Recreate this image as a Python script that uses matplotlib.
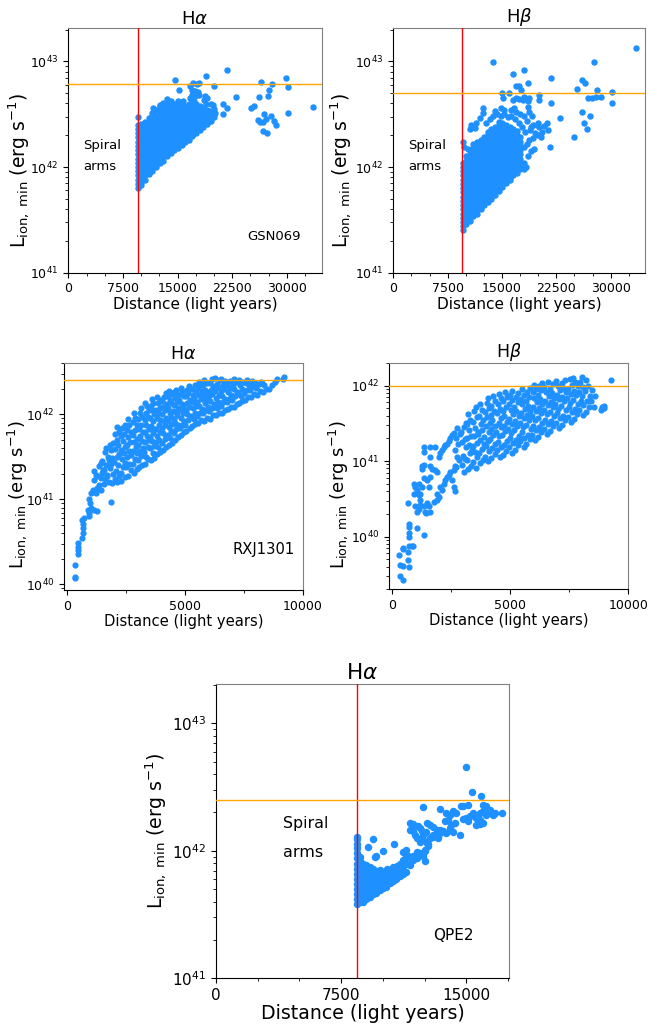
import numpy as np
import matplotlib.pyplot as plt
from matplotlib.ticker import MultipleLocator

# ================= data =================
# dense wedges: distance (light years) -> list of log10 L_ion,min (erg/s)
# clouds / scattered points: (distance, log10 L) pairs

# ---- GSN069, H alpha ----
gsn_ha_core = {
    9550: [41.80, 41.84, 41.88, 41.92, 41.96, 42.00, 42.04, 42.08, 42.12, 42.16, 42.20, 42.24, 42.28, 42.32, 42.36, 42.40],
    10050: [41.83, 41.86, 41.90, 41.94, 41.98, 42.02, 42.06, 42.10, 42.14, 42.18, 42.22, 42.26, 42.30, 42.34, 42.38, 42.41],
    10550: [41.88, 41.92, 41.96, 42.00, 42.04, 42.08, 42.12, 42.16, 42.20, 42.24, 42.28, 42.32, 42.36, 42.40, 42.43],
    11050: [41.93, 41.98, 42.02, 42.06, 42.10, 42.14, 42.18, 42.22, 42.26, 42.30, 42.34, 42.38, 42.42, 42.46],
    11550: [41.96, 42.00, 42.04, 42.08, 42.12, 42.16, 42.20, 42.24, 42.28, 42.32, 42.36, 42.40, 42.44, 42.48, 42.51],
    12050: [42.00, 42.02, 42.06, 42.10, 42.14, 42.18, 42.22, 42.26, 42.30, 42.34, 42.38, 42.42, 42.46, 42.50, 42.54],
    12550: [42.04, 42.08, 42.12, 42.16, 42.20, 42.24, 42.28, 42.32, 42.36, 42.40, 42.44, 42.48, 42.52, 42.56, 42.59],
    13050: [42.06, 42.10, 42.14, 42.18, 42.22, 42.26, 42.30, 42.34, 42.38, 42.42, 42.46, 42.50, 42.54, 42.58, 42.61],
    13550: [42.10, 42.12, 42.16, 42.20, 42.24, 42.28, 42.32, 42.36, 42.40, 42.44, 42.48, 42.52, 42.56, 42.60],
    14050: [42.13, 42.18, 42.22, 42.26, 42.30, 42.34, 42.38, 42.42, 42.46, 42.50, 42.54, 42.58, 42.62],
    14550: [42.16, 42.20, 42.24, 42.28, 42.32, 42.36, 42.40, 42.44, 42.48, 42.52, 42.56, 42.60],
    15050: [42.18, 42.22, 42.26, 42.30, 42.34, 42.38, 42.42, 42.46, 42.50, 42.54, 42.58, 42.62],
    15550: [42.21, 42.24, 42.28, 42.32, 42.36, 42.40, 42.44, 42.48, 42.52, 42.56, 42.60],
    16050: [42.24, 42.26, 42.30, 42.34, 42.38, 42.42, 42.46, 42.50, 42.54, 42.58],
    16550: [42.26, 42.28, 42.32, 42.36, 42.40, 42.44, 42.48, 42.52, 42.56, 42.60],
    17050: [42.29, 42.30, 42.34, 42.38, 42.42, 42.46, 42.50, 42.54, 42.58, 42.62],
    17550: [42.32, 42.36, 42.40, 42.44, 42.48, 42.52, 42.56, 42.60],
    18050: [42.35, 42.38, 42.42, 42.46, 42.50, 42.54, 42.58],
    18550: [42.38, 42.40, 42.44, 42.48, 42.52, 42.56],
    19050: [42.41, 42.42, 42.46, 42.50, 42.54],
    19550: [42.44, 42.48, 42.52],
    20000: [42.47, 42.50],
}
gsn_ha_scatter = [
    (9550, 42.47), (11680, 42.556), (12600, 42.578), (13520, 42.642), (15800, 42.629),
    (14657, 42.819), (15250, 42.730), (16700, 42.769), (17170, 42.794), (17640, 42.788),
    (17950, 42.794), (16940, 42.73), (17400, 42.72), (17860, 42.71), (16950, 42.68),
    (17400, 42.67), (17900, 42.68), (16700, 42.65), (17200, 42.62), (18780, 42.67),
    (19010, 42.65), (18650, 42.63), (18850, 42.60), (18870, 42.857), (21750, 42.92),
    (20015, 42.77), (23080, 42.661), (21300, 42.596), (21750, 42.556), (21300, 42.505),
    (20150, 42.514), (19920, 42.587), (19600, 42.594), (20000, 42.55), (19400, 42.53),
    (19800, 42.47), (19500, 42.45), (19150, 42.50), (25100, 42.562), (25460, 42.578),
    (26200, 42.667), (26470, 42.807), (27610, 42.73), (27940, 42.785), (27480, 42.673),
    (29900, 42.842), (30220, 42.759), (30180, 42.514), (33570, 42.569), (26930, 42.505),
    (26010, 42.445), (26330, 42.43), (26790, 42.425), (27110, 42.452), (27800, 42.483),
    (28210, 42.434), (28580, 42.394), (26790, 42.34), (27290, 42.318),
]

# ---- GSN069, H beta ----
gsn_hb_core = {
    9550: [41.40, 41.44, 41.48, 41.52, 41.56, 41.60, 41.64, 41.68, 41.72, 41.76, 41.80, 41.84, 41.88, 41.92, 41.96, 42.00, 42.04],
    10050: [41.46, 41.50, 41.54, 41.58, 41.62, 41.66, 41.70, 41.74, 41.78, 41.82, 41.86, 41.90, 41.94, 41.98, 42.02, 42.06, 42.10],
    10550: [41.49, 41.52, 41.56, 41.60, 41.64, 41.68, 41.72, 41.76, 41.80, 41.84, 41.88, 41.92, 41.96, 42.00, 42.04, 42.08, 42.12, 42.16],
    11050: [41.54, 41.58, 41.62, 41.66, 41.70, 41.74, 41.78, 41.82, 41.86, 41.90, 41.94, 41.98, 42.02, 42.06, 42.10, 42.14, 42.18, 42.22],
    11550: [41.56, 41.60, 41.64, 41.68, 41.72, 41.76, 41.80, 41.84, 41.88, 41.92, 41.96, 42.00, 42.04, 42.08, 42.12, 42.16, 42.20, 42.24],
    12050: [41.60, 41.62, 41.66, 41.70, 41.74, 41.78, 41.82, 41.86, 41.90, 41.94, 41.98, 42.02, 42.06, 42.10, 42.14, 42.18, 42.22, 42.26],
    12550: [41.64, 41.68, 41.72, 41.76, 41.80, 41.84, 41.88, 41.92, 41.96, 42.00, 42.04, 42.08, 42.12, 42.16, 42.20, 42.24, 42.28],
    13050: [41.67, 41.70, 41.74, 41.78, 41.82, 41.86, 41.90, 41.94, 41.98, 42.02, 42.06, 42.10, 42.14, 42.18, 42.22, 42.26, 42.30, 42.33],
    13550: [41.70, 41.72, 41.76, 41.80, 41.84, 41.88, 41.92, 41.96, 42.00, 42.04, 42.08, 42.12, 42.16, 42.20, 42.24, 42.28, 42.32, 42.36],
    14050: [41.74, 41.78, 41.82, 41.86, 41.90, 41.94, 41.98, 42.02, 42.06, 42.10, 42.14, 42.18, 42.22, 42.26, 42.30, 42.34, 42.38],
    14550: [41.77, 41.80, 41.84, 41.88, 41.92, 41.96, 42.00, 42.04, 42.08, 42.12, 42.16, 42.20, 42.24, 42.28, 42.32, 42.36, 42.40, 42.43],
    15050: [41.81, 41.84, 41.86, 41.90, 41.94, 41.98, 42.02, 42.06, 42.10, 42.14, 42.18, 42.22, 42.26, 42.30, 42.34, 42.38, 42.42],
    15550: [41.85, 41.88, 41.92, 41.96, 42.00, 42.04, 42.08, 42.12, 42.16, 42.20, 42.24, 42.28, 42.32, 42.36, 42.40],
    16050: [41.88, 41.90, 41.94, 41.98, 42.02, 42.06, 42.10, 42.14, 42.18, 42.22, 42.26, 42.30, 42.34, 42.38],
    16550: [41.92, 41.96, 42.00, 42.04, 42.08, 42.12, 42.16, 42.20, 42.24, 42.28, 42.32, 42.36],
    17050: [41.94, 41.98, 42.02, 42.06, 42.10, 42.14, 42.18, 42.22, 42.26, 42.30, 42.34],
    17550: [41.98, 42.00, 42.04, 42.08, 42.12, 42.16, 42.20, 42.24, 42.28],
    18050: [42.00, 42.04],
}
gsn_hb_scatter = [
    (13741, 42.994), (16480, 42.880), (18090, 42.921), (21750, 42.842), (18640, 42.794),
    (16946, 42.762), (17400, 42.768), (17630, 42.724), (14978, 42.699), (15120, 42.651),
    (15910, 42.699), (16480, 42.63), (16950, 42.655), (17400, 42.64), (18100, 42.66),
    (18780, 42.655), (18550, 42.62), (20150, 42.683), (20060, 42.635), (21750, 42.604),
    (25420, 42.737), (26100, 42.826), (26430, 42.794), (26880, 42.65), (27470, 42.65),
    (27940, 42.66), (28620, 42.66), (28160, 42.730), (30220, 42.714), (30220, 42.61),
    (26010, 42.524), (27110, 42.483), (26380, 42.413), (26790, 42.359), (25000, 42.28),
    (23030, 42.467), (33570, 43.127), (27700, 42.994), (21660, 42.19), (21210, 42.419),
    (21300, 42.35), (12367, 42.556), (12367, 42.514), (11910, 42.461), (10770, 42.40),
    (10540, 42.36), (11450, 42.42), (11220, 42.37), (13970, 42.533), (14890, 42.556),
    (15340, 42.54), (16250, 42.54), (16710, 42.556), (17860, 42.635), (18230, 42.651),
    (18550, 42.571), (18780, 42.524), (19140, 42.483), (19780, 42.397), (20150, 42.375),
    (20840, 42.388), (19920, 42.30), (20380, 42.286), (19010, 42.381), (19230, 42.27),
    (19600, 42.318), (18320, 42.00), (18090, 41.985), (19460, 42.175), (18780, 42.254),
    (18090, 42.19), (9600, 42.24), (9800, 42.19), (10300, 42.17), (12800, 42.42),
    (13300, 42.45), (13800, 42.48), (14300, 42.50), (14800, 42.48), (15300, 42.50),
    (15800, 42.47), (16300, 42.48), (16800, 42.45), (17300, 42.42), (17800, 42.38),
    (18200, 42.33), (18500, 42.44), (18000, 42.48), (17500, 42.50), (17000, 42.52),
    (18400, 42.22), (18800, 42.35), (19300, 42.40), (18600, 42.10), (19000, 42.15),
    (20000, 42.42), (20500, 42.33),
]

# ---- RXJ1301, H alpha ----
rxj_ha_scatter = [
    (309, 40.07), (309, 40.09), (315, 40.23), (452, 40.36), (452, 40.40), (452, 40.44),
    (455, 40.49), (635, 40.54), (650, 40.60), (650, 40.66), (660, 40.71), (640, 40.76),
    (700, 40.78), (880, 40.88), (918, 40.84), (900, 40.80), (1000, 40.90), (1140, 40.87),
    (1270, 40.86), (950, 40.96), (930, 41.01), (990, 41.07), (1080, 41.11), (1210, 41.07),
    (1270, 41.13), (1410, 41.11), (1350, 41.17), (1140, 41.23), (1210, 41.29), (1270, 41.27),
    (1140, 41.33), (1410, 41.25), (1480, 41.31), (1560, 41.35), (1700, 41.29), (1840, 40.97),
    (1350, 41.39), (1410, 41.43), (1480, 41.45),
    (1560, 41.18), (1690, 41.27), (1610, 41.24), (1530, 41.35), (1650, 41.41), (1720, 41.50), (1580, 41.56), (1640, 41.60),
    (1790, 41.21), (1880, 41.19), (1940, 41.30), (1830, 41.37), (1760, 41.46), (1910, 41.49), (1860, 41.58), (1800, 41.64),
    (1950, 41.66), (1870, 41.42),
    (2010, 41.24), (2130, 41.20), (2200, 41.28), (2070, 41.33), (2150, 41.40), (2000, 41.44), (2110, 41.50), (2190, 41.53),
    (2040, 41.59), (2160, 41.64), (2090, 41.70), (2020, 41.77), (2180, 41.79), (2120, 41.85),
    (2300, 41.22), (2430, 41.26), (2260, 41.31), (2370, 41.38), (2460, 41.43), (2320, 41.47), (2400, 41.54), (2280, 41.58),
    (2440, 41.62), (2350, 41.69), (2270, 41.74), (2410, 41.77), (2330, 41.84), (2460, 41.88),
    (2570, 41.27), (2690, 41.34), (2510, 41.38), (2630, 41.42), (2550, 41.50), (2700, 41.52), (2600, 41.57), (2520, 41.64),
    (2660, 41.67), (2580, 41.73), (2700, 41.79), (2540, 41.82), (2640, 41.87), (2590, 41.94),
    (2820, 41.31), (2940, 41.36), (2770, 41.42), (2880, 41.47), (2960, 41.55), (2800, 41.57), (2900, 41.62), (2840, 41.68),
    (2970, 41.71), (2780, 41.76), (2870, 41.81), (2950, 41.87), (2810, 41.91), (2890, 41.96), (2830, 42.01),
    (3060, 41.38), (3190, 41.40), (3000, 41.46), (3130, 41.51), (3070, 41.57), (3210, 41.60), (3020, 41.64), (3160, 41.69),
    (3090, 41.74), (3200, 41.79), (3040, 41.83), (3140, 41.88), (3010, 41.94), (3180, 41.97), (3080, 42.02), (3150, 42.08),
    (3290, 41.42), (3440, 41.47), (3360, 41.50), (3270, 41.56), (3410, 41.61), (3320, 41.67), (3460, 41.70), (3380, 41.74),
    (3300, 41.79), (3450, 41.83), (3350, 41.88), (3280, 41.93), (3420, 41.97), (3330, 42.02), (3470, 42.05), (3390, 42.10),
    (3310, 42.13),
    (3560, 41.46), (3700, 41.49), (3620, 41.55), (3520, 41.60), (3670, 41.63), (3590, 41.69), (3510, 41.73), (3650, 41.78),
    (3700, 41.83), (3570, 41.86), (3620, 41.92), (3530, 41.96), (3680, 42.00), (3600, 42.05), (3540, 42.10), (3660, 42.13),
    (3610, 42.18),
    (3790, 41.53), (3930, 41.56), (3860, 41.61), (3760, 41.67), (3900, 41.70), (3820, 41.75), (3950, 41.79), (3780, 41.83),
    (3880, 41.88), (3940, 41.93), (3810, 41.96), (3870, 42.01), (3770, 42.05), (3920, 42.08), (3840, 42.13), (3950, 42.17),
    (3800, 42.20),
    (4060, 41.58), (4190, 41.62), (4010, 41.66), (4130, 41.71), (4210, 41.75), (4080, 41.78), (4020, 41.84), (4160, 41.87),
    (4100, 41.92), (4200, 41.96), (4040, 42.00), (4140, 42.05), (4070, 42.09), (4190, 42.12), (4030, 42.16), (4120, 42.20),
    (4170, 42.25),
    (4300, 41.64), (4440, 41.66), (4370, 41.72), (4260, 41.76), (4410, 41.80), (4320, 41.85), (4460, 41.89), (4280, 41.92),
    (4390, 41.97), (4340, 42.01), (4470, 42.04), (4290, 42.08), (4420, 42.13), (4360, 42.17), (4270, 42.21), (4430, 42.24),
    (4330, 42.27),
    (4560, 41.70), (4690, 41.73), (4520, 41.78), (4630, 41.83), (4710, 41.87), (4580, 41.90), (4510, 41.95), (4660, 41.99),
    (4600, 42.03), (4700, 42.07), (4540, 42.11), (4640, 42.15), (4570, 42.19), (4680, 42.23), (4530, 42.26), (4620, 42.29),
    (4810, 41.76), (4940, 41.79), (4770, 41.84), (4880, 41.88), (4960, 41.92), (4830, 41.96), (4900, 42.01), (4790, 42.05),
    (4920, 42.09), (4850, 42.12), (4760, 42.17), (4950, 42.21), (4820, 42.24), (4890, 42.28), (4840, 42.31),
    (5060, 41.80), (5190, 41.84), (5010, 41.88), (5130, 41.93), (5210, 41.97), (5080, 42.00), (5020, 42.05), (5160, 42.09),
    (5100, 42.13), (5200, 42.17), (5040, 42.21), (5140, 42.25), (5070, 42.29), (5180, 42.33),
    (5300, 41.86), (5440, 41.89), (5370, 41.94), (5260, 41.98), (5410, 42.02), (5320, 42.07), (5460, 42.10), (5280, 42.14),
    (5390, 42.19), (5340, 42.23), (5470, 42.26), (5290, 42.30), (5420, 42.34),
    (5560, 41.90), (5690, 41.93), (5520, 41.98), (5630, 42.02), (5710, 42.06), (5580, 42.10), (5510, 42.15), (5660, 42.18),
    (5600, 42.23), (5700, 42.27), (5540, 42.31), (5640, 42.35), (5590, 42.38),
    (5810, 41.92), (5940, 41.96), (5770, 42.01), (5880, 42.05), (5960, 42.09), (5830, 42.13), (5900, 42.17), (5790, 42.21),
    (5920, 42.26), (5850, 42.29), (5760, 42.34), (5950, 42.37), (5820, 42.40),
    (6060, 41.95), (6190, 41.99), (6010, 42.04), (6130, 42.08), (6210, 42.12), (6080, 42.16), (6020, 42.21), (6160, 42.24),
    (6100, 42.29), (6200, 42.33), (6040, 42.37), (6140, 42.41),
    (6300, 41.99), (6440, 42.02), (6370, 42.07), (6260, 42.11), (6410, 42.15), (6320, 42.19), (6460, 42.23), (6280, 42.27),
    (6390, 42.32), (6340, 42.36), (6470, 42.40), (6290, 42.43),
    (6560, 42.01), (6690, 42.05), (6520, 42.10), (6630, 42.14), (6710, 42.18), (6580, 42.22), (6510, 42.27), (6660, 42.30),
    (6600, 42.35), (6700, 42.39), (6540, 42.42),
    (6810, 42.06), (6940, 42.09), (6770, 42.14), (6880, 42.18), (6960, 42.23), (6830, 42.26), (6900, 42.31), (6790, 42.35),
    (6920, 42.39),
    (7060, 42.09), (7190, 42.12), (7010, 42.17), (7130, 42.21), (7210, 42.26), (7080, 42.30), (7020, 42.34), (7160, 42.38),
    (7100, 42.41),
    (7300, 42.13), (7440, 42.16), (7370, 42.21), (7260, 42.25), (7410, 42.30), (7320, 42.34), (7460, 42.38), (7280, 42.40),
    (7560, 42.17), (7690, 42.20), (7520, 42.25), (7630, 42.29), (7710, 42.34), (7580, 42.37), (7650, 42.40),
    (7810, 42.20), (7940, 42.24), (7770, 42.29), (7880, 42.33), (7960, 42.37), (7830, 42.39),
    (8060, 42.23), (8190, 42.27), (8010, 42.31), (8130, 42.36), (8210, 42.38),
    (8300, 42.26), (8440, 42.30), (8370, 42.35), (8260, 42.37),
    (8560, 42.30), (8690, 42.34), (8820, 42.38), (8900, 42.41), (9180, 42.42), (9210, 42.44),
]

# ---- RXJ1301, H beta ----
rxj_hb_scatter = [
    (300, 39.76), (330, 39.48), (330, 39.62), (440, 39.61), (450, 39.83), (470, 39.85),
    (440, 39.42), (650, 39.80), (684, 39.87), (684, 40.045), (684, 40.13), (720, 40.17),
    (700, 40.00), (850, 39.88), (870, 39.88), (670, 39.69), (700, 39.60), (650, 40.45),
    (1030, 40.11), (1350, 40.02), (897, 40.70), (970, 40.66), (897, 40.57), (1040, 40.62),
    (1110, 40.55), (1180, 40.49), (970, 40.40), (1040, 40.33), (1110, 40.37), (1180, 40.42),
    (1320, 40.40), (1464, 40.45), (1605, 40.32), (1535, 40.40), (1390, 40.33), (1430, 40.31),
    (1750, 40.46), (1890, 40.49), (1960, 40.53), (1180, 40.57), (1110, 40.70), (1250, 40.66),
    (1320, 40.77), (1464, 40.75), (1605, 40.79), (1535, 40.66), (1250, 40.93), (1320, 40.95),
    (1250, 40.90), (1320, 41.19), (1320, 41.12), (1605, 41.19), (1820, 41.19), (1605, 41.06),
    (1605, 40.93), (1680, 40.90), (1820, 40.88), (1890, 40.86), (1960, 41.06), (2030, 41.10),
    (2100, 41.15), (2170, 41.19), (2240, 41.21), (2310, 41.23), (1890, 40.57), (2030, 40.66),
    (2100, 40.62), (2170, 40.70), (2240, 40.75), (2310, 40.79), (2380, 40.81), (2450, 40.86),
    (2600, 40.88), (2670, 40.93), (2530, 40.75), (2600, 40.66), (2670, 40.60), (2450, 41.30),
    (2530, 41.34), (2600, 41.37), (2380, 41.27),
    (2690, 40.92), (2820, 41.01), (2740, 41.06), (2660, 41.15), (2800, 41.22), (2710, 41.31), (2850, 41.36), (2760, 41.44),
    (3040, 40.86), (2930, 40.95), (3090, 41.03), (2980, 41.07), (3110, 41.18), (2950, 41.25), (3060, 41.29), (2900, 41.38),
    (3020, 41.45), (3100, 41.51),
    (3200, 40.90), (3320, 40.93), (3170, 41.02), (3290, 41.10), (3360, 41.14), (3230, 41.21), (3150, 41.30), (3340, 41.33),
    (3250, 41.41), (3180, 41.49), (3300, 41.55), (3220, 41.62),
    (3560, 40.91), (3430, 40.99), (3600, 41.05), (3490, 41.12), (3400, 41.20), (3570, 41.24), (3460, 41.33), (3620, 41.38),
    (3520, 41.44), (3410, 41.52), (3580, 41.58), (3470, 41.66), (3540, 41.71),
    (3700, 40.97), (3830, 41.02), (3660, 41.10), (3780, 41.16), (3870, 41.23), (3720, 41.28), (3640, 41.36), (3810, 41.41),
    (3740, 41.49), (3860, 41.55), (3680, 41.60), (3790, 41.68), (3720, 41.75),
    (4060, 41.00), (3930, 41.06), (4110, 41.13), (3980, 41.20), (4040, 41.27), (3900, 41.32), (4090, 41.39), (3960, 41.46),
    (4120, 41.51), (4010, 41.58), (3920, 41.65), (4080, 41.70), (3990, 41.77), (4050, 41.83),
    (4180, 41.04), (4330, 41.09), (4220, 41.17), (4370, 41.22), (4150, 41.29), (4280, 41.35), (4200, 41.42), (4350, 41.47),
    (4240, 41.55), (4160, 41.61), (4310, 41.66), (4190, 41.73), (4340, 41.80), (4260, 41.86),
    (4560, 41.06), (4430, 41.14), (4610, 41.19), (4470, 41.25), (4540, 41.33), (4410, 41.38), (4590, 41.45), (4500, 41.51),
    (4620, 41.57), (4450, 41.64), (4570, 41.69), (4480, 41.76), (4600, 41.83), (4520, 41.89),
    (4680, 41.08), (4820, 41.13), (4730, 41.21), (4860, 41.27), (4660, 41.34), (4790, 41.40), (4710, 41.47), (4850, 41.52),
    (4750, 41.60), (4670, 41.66), (4810, 41.72), (4700, 41.79), (4840, 41.85), (4760, 41.92),
    (5060, 41.11), (4930, 41.18), (5100, 41.24), (4980, 41.30), (5040, 41.37), (4910, 41.43), (5080, 41.49), (4960, 41.56),
    (5120, 41.62), (5010, 41.68), (4940, 41.75), (5090, 41.81), (4990, 41.87), (5050, 41.93),
    (5190, 41.15), (5320, 41.21), (5230, 41.28), (5360, 41.33), (5160, 41.41), (5290, 41.46), (5210, 41.53), (5350, 41.59),
    (5250, 41.66), (5170, 41.72), (5310, 41.78), (5220, 41.85), (5340, 41.90),
    (5560, 41.19), (5430, 41.26), (5600, 41.31), (5480, 41.38), (5540, 41.45), (5410, 41.50), (5590, 41.57), (5460, 41.63),
    (5620, 41.69), (5510, 41.75), (5440, 41.82), (5580, 41.88), (5490, 41.95),
    (5680, 41.23), (5820, 41.29), (5730, 41.35), (5860, 41.42), (5660, 41.48), (5790, 41.54), (5710, 41.61), (5850, 41.66),
    (5750, 41.73), (5670, 41.80), (5810, 41.85), (5700, 41.92), (5840, 41.97),
    (6060, 41.28), (5930, 41.34), (6100, 41.41), (5980, 41.47), (6040, 41.54), (5910, 41.59), (6080, 41.66), (5960, 41.72),
    (6120, 41.78), (6010, 41.84), (5940, 41.91), (6090, 41.96), (5990, 42.01),
    (6190, 41.32), (6320, 41.38), (6230, 41.45), (6360, 41.51), (6160, 41.57), (6290, 41.63), (6210, 41.70), (6350, 41.75),
    (6250, 41.82), (6170, 41.88), (6310, 41.94), (6220, 42.00), (6340, 42.03),
    (6560, 41.36), (6430, 41.42), (6600, 41.49), (6480, 41.55), (6540, 41.62), (6410, 41.67), (6590, 41.74), (6460, 41.80),
    (6620, 41.86), (6510, 41.92), (6440, 41.98), (6580, 42.04),
    (6680, 41.40), (6820, 41.46), (6730, 41.53), (6860, 41.59), (6660, 41.65), (6790, 41.71), (6710, 41.78), (6850, 41.84),
    (6750, 41.90), (6670, 41.96), (6810, 42.02),
    (7060, 41.44), (6930, 41.50), (7100, 41.57), (6980, 41.63), (7040, 41.69), (6910, 41.75), (7080, 41.82), (6960, 41.88),
    (7120, 41.94), (7010, 42.00), (6940, 42.06),
    (7190, 41.48), (7320, 41.54), (7230, 41.60), (7360, 41.67), (7160, 41.73), (7290, 41.79), (7210, 41.85), (7350, 41.91),
    (7250, 41.97), (7170, 42.03), (7310, 42.07),
    (7560, 41.52), (7430, 41.58), (7600, 41.65), (7480, 41.71), (7540, 41.77), (7410, 41.83), (7590, 41.89), (7460, 41.95),
    (7620, 42.01), (7510, 42.08),
    (7680, 41.56), (7820, 41.62), (7730, 41.69), (7860, 41.75), (7660, 41.81), (7790, 41.87), (7710, 41.93), (7850, 41.99),
    (7750, 42.05), (7670, 42.10),
    (8060, 41.61), (7930, 41.67), (8100, 41.74), (7980, 41.80), (8040, 41.86), (7910, 41.92), (8090, 41.98), (7960, 42.04),
    (8020, 42.11),
    (8190, 41.65), (8320, 41.72), (8230, 41.79), (8360, 41.86), (8160, 41.93), (8290, 42.00), (8210, 42.07),
    (8560, 41.71), (8440, 41.79), (8600, 41.86), (8480, 41.94),
    (8830, 41.68), (8880, 41.72), (8990, 41.70), (8990, 41.73), (9270, 42.07),
]

# ---- QPE2, H alpha ----
qpe_ha_core = {
    8430: [41.58, 41.62, 41.66, 41.70, 41.74, 41.78, 41.82, 41.86, 41.90, 41.94, 41.98, 42.02, 42.05, 42.09, 42.11],
    8600: [41.60, 41.64, 41.68, 41.72, 41.76, 41.80, 41.84, 41.88, 41.92, 41.95],
    8800: [41.60, 41.62, 41.66, 41.70, 41.74, 41.78, 41.82, 41.86, 41.90],
    9000: [41.62, 41.66, 41.70, 41.74, 41.78, 41.82, 41.86, 41.89],
    9200: [41.64, 41.68, 41.72, 41.76, 41.80, 41.84, 41.87],
    9400: [41.66, 41.70, 41.74, 41.78, 41.82, 41.86],
    9600: [41.67, 41.72, 41.76, 41.80, 41.84],
    9800: [41.69, 41.73, 41.77, 41.81, 41.85],
    10000: [41.71, 41.75, 41.79, 41.83],
    10200: [41.72, 41.76, 41.80],
    10400: [41.75, 41.79, 41.83],
    10600: [41.76, 41.80, 41.84],
    10800: [41.78, 41.82],
    11000: [41.80, 41.85],
    11200: [41.82, 41.88],
    11400: [41.83, 41.90],
}
qpe_ha_scatter = [
    (9120, 42.03), (9380, 42.09), (10020, 42.00), (10680, 42.05), (9500, 41.95), (9600, 41.96),
    (10220, 41.86), (10620, 41.87), (10820, 41.88), (11010, 41.90), (11220, 41.93), (11410, 41.95),
    (11610, 41.94), (11810, 41.96), (12010, 41.99), (12210, 41.98), (12410, 41.96), (12510, 41.92),
    (11210, 41.99), (11410, 42.01), (11510, 41.96), (11610, 41.89), (11810, 41.93), (12010, 41.94),
    (11610, 42.165), (11810, 42.152), (11910, 42.125), (12110, 42.191), (12210, 42.178),
    (12310, 42.152), (12410, 42.125), (12010, 42.099), (12210, 42.073), (12410, 42.086),
    (12610, 42.060), (12810, 42.099), (12710, 42.034), (12510, 42.008), (12400, 42.34),
    (11610, 42.22), (11810, 42.21), (13010, 42.112), (13210, 42.125), (13300, 42.099),
    (13410, 42.138), (13610, 42.152), (13800, 42.138), (14010, 42.165), (12610, 42.217),
    (12810, 42.204), (13010, 42.19), (13210, 42.165), (13400, 42.33), (13700, 42.23),
    (13900, 42.243), (14100, 42.204), (14300, 42.217), (13800, 42.296), (14000, 42.283),
    (14200, 42.309), (14400, 42.296), (14600, 42.125), (14800, 42.25), (15000, 42.257),
    (15100, 42.23), (15200, 42.27), (15400, 42.28), (15600, 42.257), (15800, 42.296),
    (16000, 42.309), (14800, 42.348), (15100, 42.36), (14700, 42.35), (15360, 42.458),
    (15900, 42.43), (16000, 42.36), (16200, 42.348), (16400, 42.32), (15400, 42.296),
    (15600, 42.27), (15800, 42.24), (16000, 42.22), (16200, 42.283), (16400, 42.296),
    (16600, 42.283), (16700, 42.30), (17130, 42.30), (15000, 42.661), (15600, 42.20),
    (15800, 42.21), (12600, 42.15), (13000, 42.125), (13400, 42.165), (14200, 42.15),
    (14000, 42.18), (12700, 42.05), (12500, 42.00),
]

# reference lines
gsn_spiral = 9530
qpe_spiral = 8430
gsn_ha_line = 6.1e42
gsn_hb_line = 5.05e42
rxj_ha_line = 2.5e42
rxj_hb_line = 1.0e42
qpe_ha_line = 2.5e42


def points(core, scatter):
    xs, logs = [], []
    for dist, vals in core.items():
        for v in vals:
            xs.append(dist)
            logs.append(v)
    for d, v in scatter:
        xs.append(d)
        logs.append(v)
    return np.array(xs), 10.0 ** np.array(logs)


ylab = 'L$_{\\rm ion,\\ min}$ (erg s$^{-1}$)'
blue = '#1E90FF'

fig = plt.figure(figsize=(6.48, 10.28), dpi=100)


def style(ax, title, tfs, lfs, yfs, kfs, major, minor, xlim, ylim, ylc, tpad=3):
    ax.set_yscale('log')
    ax.set_xlim(*xlim)
    ax.set_ylim(*ylim)
    ax.xaxis.set_major_locator(MultipleLocator(major))
    ax.xaxis.set_minor_locator(MultipleLocator(minor))
    ax.set_title(title, fontsize=tfs, pad=tpad)
    ax.set_xlabel('Distance (light years)', fontsize=lfs, labelpad=1)
    ax.set_ylabel(ylab, fontsize=yfs)
    ax.yaxis.set_label_coords(*ylc)
    ax.tick_params(labelsize=kfs)
    for s in ['top', 'right']:
        ax.spines[s].set_color('#808080')


# top left: GSN069 H alpha
ax1 = fig.add_axes([0.1054, 0.7347, 0.391, 0.2377])
x, L = points(gsn_ha_core, gsn_ha_scatter)
ax1.scatter(x, L, s=13, color=blue, zorder=2)
ax1.axvline(gsn_spiral, color='red', lw=1, zorder=3)
ax1.axhline(gsn_ha_line, color='orange', lw=1, zorder=3)
style(ax1, 'H$\\alpha$', 13, 11, 13.5, 9, 7500, 2500, (0, 34800), (1e41, 2.05e43), (-0.145, 0.42))
ax1.text(0.059, 0.522, 'Spiral', transform=ax1.transAxes, fontsize=9.5, va='center')
ax1.text(0.059, 0.433, 'arms', transform=ax1.transAxes, fontsize=9.5, va='center')
ax1.text(0.705, 0.147, 'GSN069', transform=ax1.transAxes, fontsize=9.5, va='center')

# top right: GSN069 H beta
ax2 = fig.add_axes([0.607, 0.7347, 0.389, 0.2377])
x, L = points(gsn_hb_core, gsn_hb_scatter)
ax2.scatter(x, L, s=13, color=blue, zorder=2)
ax2.axvline(gsn_spiral, color='red', lw=1, zorder=3)
ax2.axhline(gsn_hb_line, color='orange', lw=1, zorder=3)
style(ax2, 'H$\\beta$', 13, 11, 13.5, 9, 7500, 2500, (0, 34800), (1e41, 2.05e43), (-0.155, 0.42))
ax2.text(0.06, 0.522, 'Spiral', transform=ax2.transAxes, fontsize=9.5, va='center')
ax2.text(0.06, 0.433, 'arms', transform=ax2.transAxes, fontsize=9.5, va='center')

# middle left: RXJ1301 H alpha
ax3 = fig.add_axes([0.0992, 0.4261, 0.368, 0.2211])
x, L = points({}, rxj_ha_scatter)
ax3.scatter(x, L, s=12, color=blue, zorder=2)
ax3.axhline(rxj_ha_line, color='orange', lw=1, zorder=3)
style(ax3, 'H$\\alpha$', 12.5, 10.6, 13, 9, 5000, 2500, (-130, 10000), (8.6e39, 4.05e42), (-0.15, 0.42))
ax3.text(0.707, 0.18, 'RXJ1301', transform=ax3.transAxes, fontsize=10.6, va='center')

# middle right: RXJ1301 H beta
ax4 = fig.add_axes([0.6008, 0.4267, 0.3688, 0.2204])
x, L = points({}, rxj_hb_scatter)
ax4.scatter(x, L, s=12, color=blue, zorder=2)
ax4.axhline(rxj_hb_line, color='orange', lw=1, zorder=3)
style(ax4, 'H$\\beta$', 12.5, 10.6, 13, 9, 5000, 2500, (-130, 10000), (2.0e39, 2.0e42), (-0.165, 0.42))

# bottom: QPE2 H alpha
ax5 = fig.add_axes([0.3333, 0.0483, 0.4522, 0.286])
x, L = points(qpe_ha_core, qpe_ha_scatter)
ax5.scatter(x, L, s=19, color=blue, zorder=2)
ax5.axvline(qpe_spiral, color='red', lw=1, zorder=3)
ax5.axhline(qpe_ha_line, color='orange', lw=1, zorder=3)
style(ax5, 'H$\\alpha$', 15.5, 13.6, 13.6, 11, 7500, 2500, (0, 17550), (1e41, 2.02e43), (-0.16, 0.5), tpad=4)
ax5.text(0.229, 0.527, 'Spiral', transform=ax5.transAxes, fontsize=11.4, va='center')
ax5.text(0.229, 0.429, 'arms', transform=ax5.transAxes, fontsize=11.4, va='center')
ax5.text(0.74, 0.146, 'QPE2', transform=ax5.transAxes, fontsize=11, va='center')

fig.savefig('out.png', dpi=100)
